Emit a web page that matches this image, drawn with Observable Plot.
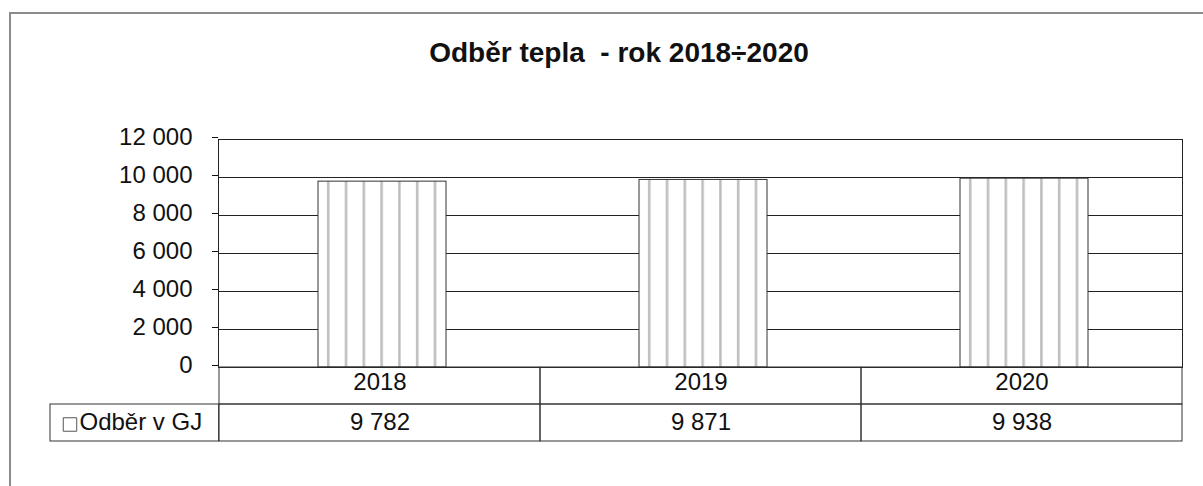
<!DOCTYPE html>
<html>
<head>
<meta charset="utf-8">
<script src="https://cdn.jsdelivr.net/npm/d3@7"></script>
<script src="https://cdn.jsdelivr.net/npm/@observablehq/plot@0.6"></script>
<style>
  html, body { margin: 0; padding: 0; background: #fff; }
  #wrap { position: relative; width: 1203px; height: 486px; overflow: hidden; background: #fff;
          font-family: "Liberation Sans", Arial, sans-serif; }
  #outer { position: absolute; left: 9px; top: 12px; width: 1400px; height: 600px;
           border-left: 2px solid #8c8c8c; border-top: 2px solid #8c8c8c; }
  #title { position: absolute; left: 619px; top: 39px; transform: translateX(-50%);
           font-weight: bold; font-size: 28px; line-height: 28px; color: #111; white-space: pre; }
  #chart { position: absolute; left: 0; top: 100px; }
</style>
</head>
<body>
<div id="wrap">
  <div id="outer"></div>
  <div id="title"></div>
  <div id="chart"></div>
</div>
<script>
// ---- data ----
const titleText = "Odběr tepla  - rok 2018÷2020";
const years = ["2018", "2019", "2020"];
const values = [9782, 9871, 9938];
const seriesLabel = "Odběr v GJ";
const yTicks = [0, 2000, 4000, 6000, 8000, 10000, 12000];

document.getElementById("title").textContent = titleText;

const rows = years.map((year, i) => ({year, value: values[i]}));
const fmt = d => d3.format(",")(d).replace(/,/g, "\u00A0");

// ---- layout ----
const W = 1203, H = 386;
const mL = 218, mR = 21, mT = 39, mB = 119;
const FH = H - mT - mB;           // frame height
const ROW = 37;                    // table row height
const step = (W - mL - mR) / years.length;
const legendLeft = 49;             // left edge of legend cell

const chart = Plot.plot({
  width: W,
  height: H,
  marginLeft: mL,
  marginRight: mR,
  marginTop: mT,
  marginBottom: mB,
  style: {fontFamily: "'Liberation Sans', Arial, sans-serif", fontSize: "24px", color: "#111", background: "transparent", overflow: "visible"},
  x: {type: "band", domain: years, padding: 0, axis: null},
  y: {domain: [0, 12000], axis: null},
  marks: [
    Plot.gridY({ticks: yTicks, stroke: "#222", strokeOpacity: 1, strokeWidth: 1}),
    Plot.axisY({ticks: yTicks, tickSize: 6, tickPadding: 20, tickFormat: fmt, label: null, stroke: "#111", fill: "#111", dy: -2}),
    Plot.barY(rows, {x: "year", y: "value", fill: "url(#vstripes)", stroke: "#333", strokeWidth: 1, insetLeft: 99, insetRight: 94}),
    Plot.frame({stroke: "#222"}),
    // data table - row 1 (categories)
    Plot.cell(rows, {x: "year", fill: "none", stroke: "#333", insetTop: FH, insetBottom: -ROW}),
    Plot.text(rows, {x: "year", text: "year", frameAnchor: "bottom", dy: 22, fill: "#111"}),
    // data table - row 2 (values)
    Plot.cell(rows, {x: "year", fill: "none", stroke: "#333", insetTop: FH + ROW, insetBottom: -2 * ROW}),
    Plot.cell(rows.slice(0, 1), {x: "year", fill: "none", stroke: "#333", insetTop: FH + ROW, insetBottom: -2 * ROW, insetLeft: -(mL - legendLeft), insetRight: step}),
    Plot.text(rows, {x: "year", text: d => fmt(d.value), frameAnchor: "bottom", dy: 62, fill: "#111"}),
    Plot.dot([seriesLabel], {frameAnchor: "bottom-left", dx: -(mL - 69.5), dy: 57, symbol: "square", r: 7.6, fill: "white", stroke: "#555", strokeWidth: 1}),
    Plot.text([seriesLabel], {frameAnchor: "bottom-left", text: d => d, textAnchor: "start", dx: -(mL - 79), dy: 62, fill: "#111"})
  ]
});

// vertical-stripe pattern for bars
d3.select(chart).insert("defs", ":first-child").html(`
  <pattern id="vstripes" patternUnits="objectBoundingBox" x="0" y="0" width="0.139" height="1">
    <rect x="0" y="0" width="40" height="2000" fill="#fff"></rect>
    <rect x="9" y="0" width="2.5" height="2000" fill="#bdbdbd"></rect>
  </pattern>`);

document.getElementById("chart").appendChild(chart);
</script>
</body>
</html>
